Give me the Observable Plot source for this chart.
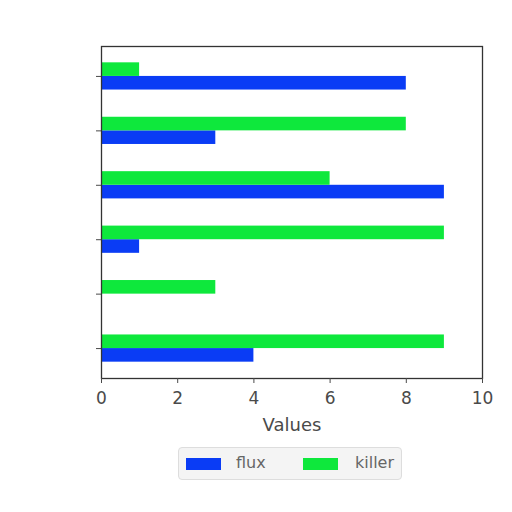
<!DOCTYPE html>
<html>
<head>
<meta charset="utf-8">
<script src="https://cdn.jsdelivr.net/npm/d3@7"></script>
<script src="https://cdn.jsdelivr.net/npm/@observablehq/plot@0.6"></script>
<style>
  html, body { margin: 0; padding: 0; background: #fff; }
  body { width: 512px; height: 512px; font-family: "DejaVu Sans", sans-serif; }
  #chart svg { display: block; }
  .legend {
    position: absolute; left: 178px; top: 447px; width: 224px; height: 33px;
    border: 1px solid #ddd; border-radius: 4px; background: #f4f4f4;
    box-sizing: border-box; font-family: "DejaVu Sans", sans-serif; font-size: 16px; color: #666;
  }
  .sw { position: absolute; top: 10px; width: 35px; height: 12px; }
  .lt { position: absolute; top: 5px; }
</style>
</head>
<body>
<div id="chart"></div>
<div class="legend" id="legend"></div>
<script>
// categories listed bottom to top
const categories = ["c1", "c2", "c3", "c4", "c5", "c6"];
const flux = [4, 0, 1, 9, 3, 8];
const killer = [9, 3, 9, 6, 8, 1];
const seriesNames = ["flux", "killer"];
const seriesColors = ["#0a3cf5", "#0ee83c"];
const xTicks = [0, 2, 4, 6, 8, 10];

const barH = 0.25;
const rows = [];
categories.forEach((c, i) => {
  rows.push({cat: c, i, series: "flux", value: flux[i], lo: i - barH, hi: i});
  rows.push({cat: c, i, series: "killer", value: killer[i], lo: i, hi: i + barH});
});

const chart = Plot.plot({
  width: 512,
  height: 440,
  marginLeft: 101,
  marginRight: 30,
  marginTop: 46,
  marginBottom: 62,
  style: {fontFamily: "DejaVu Sans, sans-serif", fontSize: "16px", color: "#4a4a4a", background: "transparent"},
  x: {domain: [0, 10]},
  y: {domain: [-0.55, categories.length - 1 + 0.55]},
  color: {domain: seriesNames, range: seriesColors},
  marks: [
    Plot.rectX(rows, {x: "value", y1: "lo", y2: "hi", fill: "series"}),
    Plot.frame({stroke: "#333", strokeWidth: 1.3}),
    Plot.axisX({ticks: xTicks, tickSize: 5, tickPadding: 8, label: null, fontSize: 17}),
    Plot.axisX({ticks: [], label: "Values", labelAnchor: "center", labelArrow: "none", labelOffset: 52, fontSize: 18}),
    Plot.axisY({ticks: categories.map((c, i) => i), tickFormat: () => "", tickSize: 5, label: null})
  ]
});
document.getElementById("chart").appendChild(chart);

const leg = document.getElementById("legend");
const pos = [[7, 57], [124, 176]];
seriesNames.forEach((s, k) => {
  const sw = document.createElement("div");
  sw.className = "sw"; sw.style.left = pos[k][0] + "px"; sw.style.background = seriesColors[k];
  const t = document.createElement("div");
  t.className = "lt"; t.style.left = pos[k][1] + "px"; t.textContent = s;
  leg.appendChild(sw); leg.appendChild(t);
});
</script>
</body>
</html>
